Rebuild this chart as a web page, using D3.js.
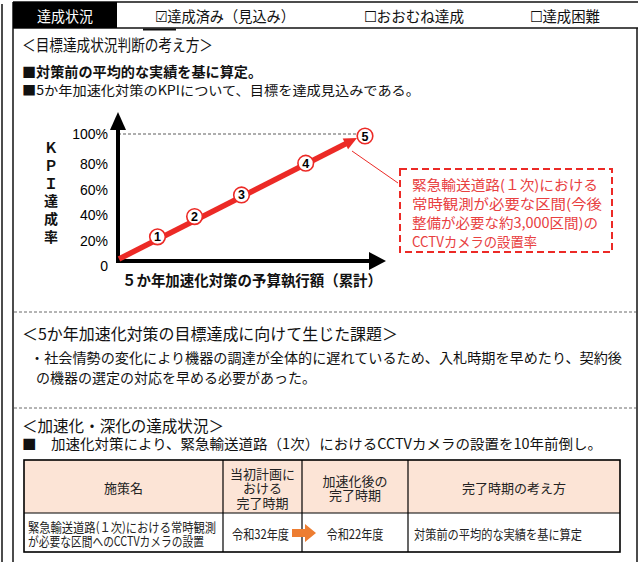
<!DOCTYPE html>
<html>
<head>
<meta charset="utf-8">
<script src="https://cdn.jsdelivr.net/npm/d3@7"></script>
<style>
  body { margin: 0; background: #fff; }
  svg { display: block; }
</style>
</head>
<body>
<svg id="chart" width="640" height="562"></svg>
<script>
/* KPI sheet: header status row, target reasoning with a small chart,
   issue text, and the acceleration table at the bottom. */

const JP = '"Noto Sans CJK JP", "Noto Sans", sans-serif';
const LAT = '"Liberation Sans", Arial, sans-serif';
const RED = '#ec2a26';

// data
const statusLabels = ['達成状況', '☑達成済み（見込み）', '☐おおむね達成', '☐達成困難'];
const kpiTicks = [0, 20, 40, 60, 80, 100];
const stepLabels = ['1', '2', '3', '4', '5'];
const budgetShare = [16, 31, 50, 76, 100];
const kpiRate = [19, 35, 52, 77, 100];
const yAxisChars = ['Ｋ', 'Ｐ', 'Ｉ', '達', '成', '率'];
const xAxisTitle = '５か年加速化対策の予算執行額（累計）';
const calloutLines = [
  '緊急輸送道路(１次)における',
  '常時観測が必要な区間(今後',
  '整備が必要な約3,000区間)の',
  'CCTVカメラの設置率',
];
const tableHeader = [
  ['施策名'],
  ['当初計画に', 'おける', '完了時期'],
  ['加速化後の', '完了時期'],
  ['完了時期の考え方'],
];
const tableRow = [
  ['緊急輸送道路(１次)における常時観測', 'が必要な区間へのCCTVカメラの設置'],
  ['令和32年度'],
  ['令和22年度'],
  ['対策前の平均的な実績を基に算定'],
];

const svg = d3.select('#chart');
svg.append('rect').attr('width', 640).attr('height', 562).attr('fill', '#fff');

// helper: one text line, optionally squeezed to a width
function label(parent, t, o) {
  const el = parent.append('text')
    .attr('x', o.x).attr('y', o.y)
    .attr('dominant-baseline', 'central')
    .attr('text-anchor', o.anchor || 'start')
    .attr('font-family', o.font || JP)
    .attr('font-size', o.size || 14)
    .attr('font-weight', o.weight || 'normal')
    .attr('fill', o.fill || '#111')
    .text(t);
  if (o.len) el.attr('textLength', o.len).attr('lengthAdjust', 'spacingAndGlyphs');
  return el;
}

// helper: several lines in one text element (tspans), centred on y
function block(parent, lines, o) {
  const el = parent.append('text')
    .attr('text-anchor', o.anchor || 'start')
    .attr('font-family', JP)
    .attr('font-size', o.size)
    .attr('fill', o.fill || '#222');
  lines.forEach((t, j) => {
    const ts = el.append('tspan')
      .attr('x', o.x)
      .attr('y', o.y + (j - (lines.length - 1) / 2) * o.step)
      .attr('dominant-baseline', 'central')
      .text(t);
    if (o.lens) ts.attr('textLength', o.lens[j]).attr('lengthAdjust', 'spacingAndGlyphs');
  });
  return el;
}

// ---- frame ----
svg.append('line').attr('x1', 2).attr('x2', 2).attr('y1', 4).attr('y2', 562)
  .attr('stroke', '#111').attr('stroke-width', 1.5);
svg.append('line').attr('x1', 13).attr('x2', 13).attr('y1', 2).attr('y2', 562)
  .attr('stroke', '#111').attr('stroke-width', 1.5);
svg.append('line').attr('x1', 637).attr('x2', 637).attr('y1', 28).attr('y2', 562)
  .attr('stroke', '#111').attr('stroke-width', 1.5);
svg.append('line').attr('x1', 13).attr('x2', 638).attr('y1', 2).attr('y2', 2)
  .attr('stroke', '#111').attr('stroke-width', 1.5);
svg.append('line').attr('x1', 13).attr('x2', 638).attr('y1', 28).attr('y2', 28)
  .attr('stroke', '#111').attr('stroke-width', 1.5);
svg.append('line').attr('x1', 143).attr('x2', 176).attr('y1', 29.5).attr('y2', 29.5)
  .attr('stroke', '#111').attr('stroke-width', 2);

// header row
svg.append('rect').attr('x', 13).attr('y', 2).attr('width', 104).attr('height', 26).attr('fill', '#000');
const headerX = [65, 225, 414, 565];
const headerLen = [56, 140, 100, 70];
statusLabels.forEach((t, i) => {
  label(svg, t, {
    x: headerX[i], y: 15.5, anchor: 'middle', size: 15, len: headerLen[i],
    fill: i === 0 ? '#fff' : '#111',
  });
});

// ---- section 1 text ----
label(svg, '＜目標達成状況判断の考え方＞', { x: 22, y: 44, size: 16, len: 191 });
label(svg, '■対策前の平均的な実績を基に算定。', { x: 22, y: 71, size: 14, weight: 'bold', len: 240 });
label(svg, '■5か年加速化対策のKPIについて、目標を達成見込みである。', { x: 22, y: 89, size: 13, len: 398 });

// ---- chart ----
const x = d3.scaleLinear().domain([0, 100]).range([118, 365]);
const y = d3.scaleLinear().domain([0, 100]).range([261, 134]);
const chart = svg.append('g');

// 100% guide
chart.append('line')
  .attr('x1', x(0)).attr('x2', x(100) - 8)
  .attr('y1', y(100)).attr('y2', y(100))
  .attr('stroke', '#333').attr('stroke-width', 0.8).attr('stroke-dasharray', '3,2');

// axes with arrow heads
chart.append('line').attr('x1', x(0)).attr('x2', x(0)).attr('y1', y(0) + 2).attr('y2', 126)
  .attr('stroke', '#000').attr('stroke-width', 4);
chart.append('path').attr('d', `M${x(0)},112 L${x(0) - 8},130 L${x(0) + 8},130 Z`).attr('fill', '#000');
chart.append('line').attr('x1', x(0) - 2).attr('x2', 372).attr('y1', y(0)).attr('y2', y(0))
  .attr('stroke', '#000').attr('stroke-width', 4);
chart.append('path').attr('d', `M386,${y(0)} L369,${y(0) - 9} L369,${y(0) + 9} Z`).attr('fill', '#000');

// tick labels
chart.selectAll('text.tick')
  .data(kpiTicks)
  .join('text')
  .attr('class', 'tick')
  .attr('x', 108)
  .attr('y', (d) => y(d) + (d === 100 ? 0 : 5))
  .attr('dominant-baseline', 'central')
  .attr('text-anchor', 'end')
  .attr('font-family', LAT)
  .attr('font-size', 14)
  .attr('fill', '#000')
  .text((d) => (d === 0 ? '0' : d + '%'));

// vertical y title
yAxisChars.forEach((c, i) => {
  label(chart, c, { x: 51, y: 147 + i * 17.8, anchor: 'middle', size: 14, weight: 'bold' });
});
label(chart, xAxisTitle, { x: 252, y: 279, anchor: 'middle', size: 15, weight: 'bold', len: 260 });

// red progress arrow
const pts = budgetShare.map((b, i) => [x(b), y(kpiRate[i])]);
const start = [x(0) + 1, y(0) - 2];
const end = pts[pts.length - 1];
const dx = end[0] - start[0], dy = end[1] - start[1];
const dl = Math.hypot(dx, dy);
const ux = dx / dl, uy = dy / dl;
const tip = [end[0] - 9 * ux, end[1] - 9 * uy];
const base = [tip[0] - 13 * ux, tip[1] - 13 * uy];
chart.append('line')
  .attr('x1', start[0]).attr('y1', start[1])
  .attr('x2', base[0] + 2 * ux).attr('y2', base[1] + 2 * uy)
  .attr('stroke', RED).attr('stroke-width', 5.5);
chart.append('path')
  .attr('d', `M${tip[0]},${tip[1]} L${base[0] - 6 * uy},${base[1] + 6 * ux} L${base[0] + 6 * uy},${base[1] - 6 * ux} Z`)
  .attr('fill', RED);

const marks = chart.selectAll('g.step')
  .data(stepLabels)
  .join('g')
  .attr('class', 'step')
  .attr('transform', (d, i) => `translate(${pts[i][0]},${pts[i][1] + (i === 4 ? 2 : 0)})`);
marks.append('circle').attr('r', 7.8).attr('fill', '#fff').attr('stroke', RED).attr('stroke-width', 1.6);
marks.append('text')
  .attr('text-anchor', 'middle').attr('dominant-baseline', 'central').attr('y', 0.5)
  .attr('font-family', LAT).attr('font-size', 12.5).attr('font-weight', 'bold').attr('fill', '#000')
  .text((d) => d);

// callout
chart.append('line').attr('x1', 352).attr('y1', 151).attr('x2', 398).attr('y2', 183)
  .attr('stroke', RED).attr('stroke-width', 1);
chart.append('rect').attr('x', 400).attr('y', 169).attr('width', 212).attr('height', 83)
  .attr('fill', '#fff').attr('stroke', RED).attr('stroke-width', 2).attr('stroke-dasharray', '7,4');
block(chart, calloutLines, {
  x: 412, y: 212.5, step: 19, size: 14, fill: '#e8403f', lens: [186, 190, 186, 125],
});

// ---- section separators ----
[312, 408].forEach((yy) => {
  svg.append('line').attr('x1', 14).attr('x2', 637).attr('y1', yy).attr('y2', yy)
    .attr('stroke', '#444').attr('stroke-width', 0.8).attr('stroke-dasharray', '3,2');
});

// ---- section 2 ----
label(svg, '＜5か年加速化対策の目標達成に向けて生じた課題＞', { x: 22, y: 333, size: 16, len: 376 });
label(svg, '・社会情勢の変化により機器の調達が全体的に遅れているため、入札時期を早めたり、契約後', { x: 30, y: 357, size: 14, len: 592 });
label(svg, 'の機器の選定の対応を早める必要があった。', { x: 36, y: 377, size: 14, len: 280 });

// ---- section 3 ----
label(svg, '＜加速化・深化の達成状況＞', { x: 22, y: 425, size: 16, len: 202 });
label(svg, '■　加速化対策により、緊急輸送道路（1次）におけるCCTVカメラの設置を10年前倒し。', { x: 22, y: 443, size: 14, len: 580 });

// table
const colEdges = [24, 223, 302, 408, 620];
const rowEdges = [460, 513, 552];
const table = svg.append('g');
table.append('rect').attr('x', colEdges[0]).attr('y', rowEdges[0])
  .attr('width', colEdges[4] - colEdges[0]).attr('height', rowEdges[1] - rowEdges[0])
  .attr('fill', '#fce4d6');
colEdges.slice(1, 4).forEach((cx) => {
  table.append('line').attr('x1', cx).attr('x2', cx).attr('y1', rowEdges[0]).attr('y2', rowEdges[2])
    .attr('stroke', '#000').attr('stroke-width', 1.2);
});
table.append('line').attr('x1', colEdges[0]).attr('x2', colEdges[4]).attr('y1', rowEdges[1]).attr('y2', rowEdges[1])
  .attr('stroke', '#000').attr('stroke-width', 1.2);
table.append('rect').attr('x', colEdges[0]).attr('y', rowEdges[0])
  .attr('width', colEdges[4] - colEdges[0]).attr('height', rowEdges[2] - rowEdges[0])
  .attr('fill', 'none').attr('stroke', '#000').attr('stroke-width', 1.6);

const cellCenter = (i) => (colEdges[i] + colEdges[i + 1]) / 2;
const headMid = (rowEdges[0] + rowEdges[1]) / 2 + 1;
tableHeader.forEach((lines, i) => {
  block(table, lines, { x: cellCenter(i), y: headMid, step: 14.5, size: 13, anchor: 'middle' });
});
const rowMid = (rowEdges[1] + rowEdges[2]) / 2 + 0.5;
tableRow.forEach((lines, i) => {
  if (i === 0) {
    block(table, lines, { x: 28, y: rowMid, step: 14, size: 13, lens: [188, 176] });
  } else if (i === 3) {
    block(table, lines, { x: 414, y: rowMid, step: 14, size: 13, lens: [168] });
  } else {
    block(table, lines, {
      x: cellCenter(i) + (i === 1 ? -2 : 0), y: rowMid, step: 14, size: 13, anchor: 'middle', lens: [57],
    });
  }
});
// orange arrow between the two dates
table.append('path')
  .attr('d', `M292,${rowMid - 4} L305,${rowMid - 4} L305,${rowMid - 9} L316,${rowMid} L305,${rowMid + 9} L305,${rowMid + 4} L292,${rowMid + 4} Z`)
  .attr('fill', '#ed7d31');
</script>
</body>
</html>
